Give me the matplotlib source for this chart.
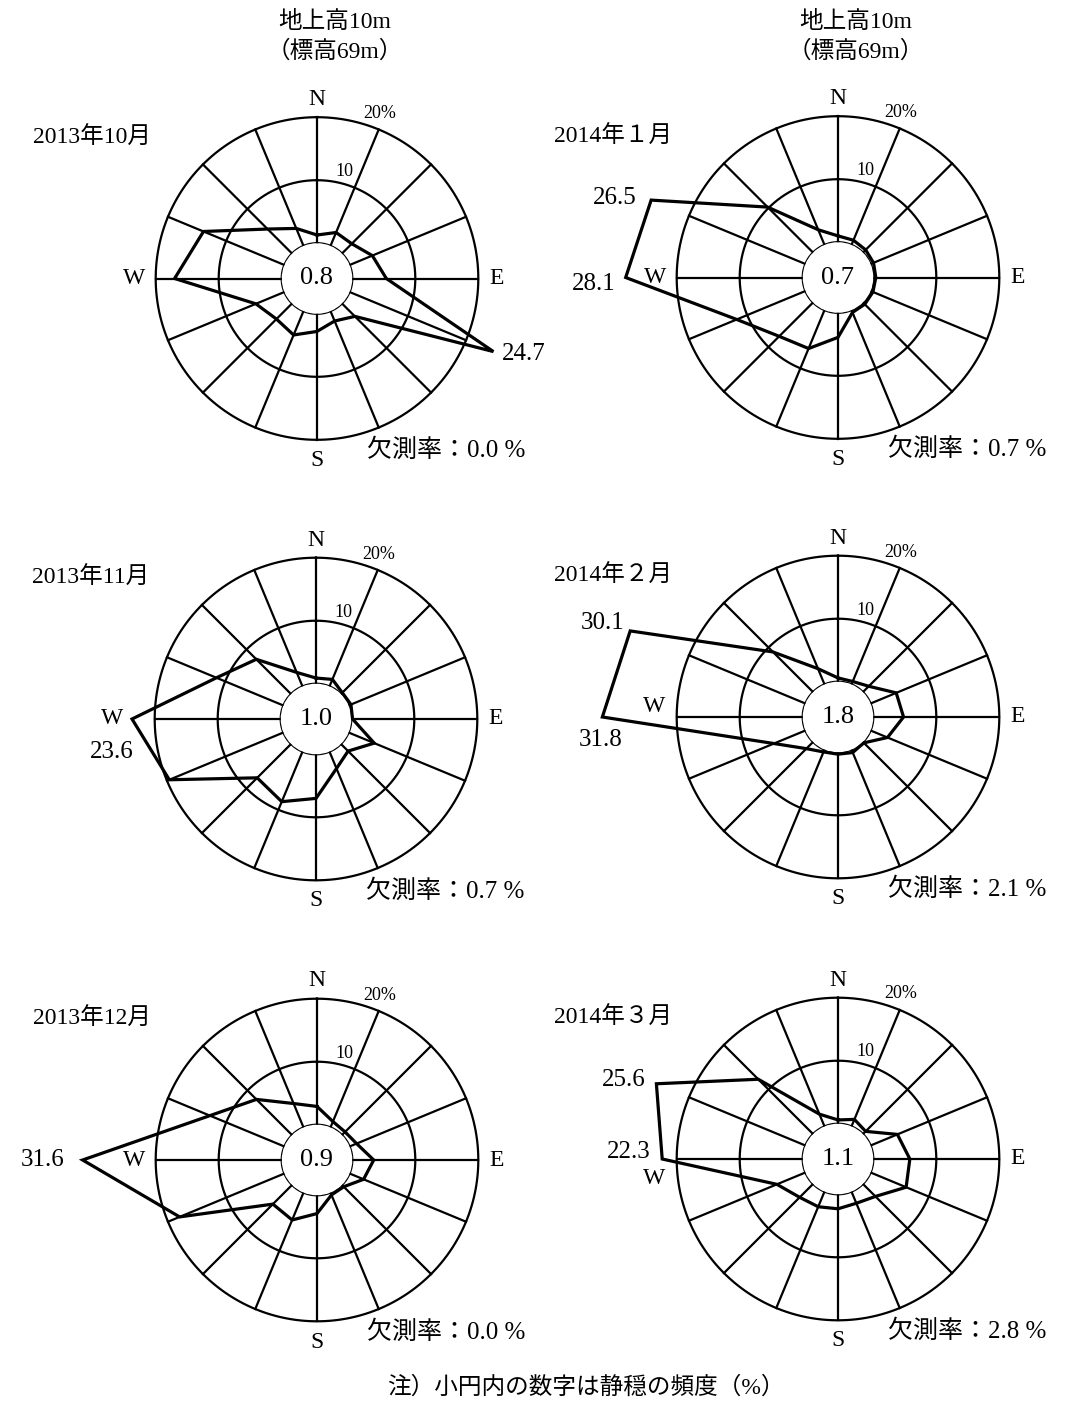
import numpy as np
import matplotlib.pyplot as plt

# ==========================
# CONFIG
# ==========================
plt.rcParams["font.family"] = ["Liberation Serif", "Noto Sans CJK JP"]

W_PX, H_PX = 1080, 1407
OUT_PATH = "out.png"

DIRS = ["N", "NNE", "NE", "ENE", "E", "ESE", "SE", "SSE",
        "S", "SSW", "SW", "WSW", "W", "WNW", "NW", "NNW"]

# 風向別出現頻度 (%)  N から時計回り
OCT_2013 = [1.3, 2.3, 2.2, 3.9, 5.4, 24.7, 2.9, 1.7, 2.8, 4.1, 3.5, 4.9, 17.0, 13.9, 5.5, 3.0]
NOV_2013 = [0.9, 1.2, 0.3, 0.4, 0.2, 4.4, 1.6, 2.9, 7.0, 8.6, 7.6, 19.6, 23.6, 11.5, 7.8, 2.4]
DEC_2013 = [2.9, 1.0, 0.7, 1.2, 3.4, 2.4, 0.4, 0.4, 2.9, 4.7, 4.3, 18.0, 31.6, 12.8, 8.0, 4.1]
JAN_2014 = [1.0, 0.8, 0.6, 0.5, 0.4, 0.4, 0.4, 0.4, 3.9, 6.6, 7.6, 11.8, 28.1, 26.5, 10.2, 2.6]
FEB_2014 = [0.6, 0.5, 1.3, 4.4, 4.8, 2.9, 0.2, 0.5, 0.3, 0.4, 1.5, 5.4, 31.8, 30.1, 9.0, 2.7]
MAR_2014 = [0.6, 1.2, 0.6, 4.6, 5.8, 6.1, 2.8, 2.0, 2.3, 2.6, 3.0, 4.9, 22.3, 25.6, 12.3, 2.1]

MONTHS = ["2013年10月", "2013年11月", "2013年12月", "2014年１月", "2014年２月", "2014年３月"]
FREQS = [OCT_2013, NOV_2013, DEC_2013, JAN_2014, FEB_2014, MAR_2014]
CALM = [0.8, 1.0, 0.9, 0.7, 1.8, 1.1]        # 静穏 (%)
MISSING = [0.0, 0.7, 0.0, 0.7, 2.1, 2.8]     # 欠測率 (%)

# 数値ラベルを付ける風向 (index) と表示位置のずれ (px, 下向き正)
LABELS = [
    [(5, 8, 2, "left")],
    [(12, -20, 33, "center")],
    [(12, -18, 0, "right")],
    [(13, -15, -2, "right"), (12, -10, 7, "right")],
    [(13, -6, -8, "right"), (12, -2, 23, "center")],
    [(13, -11, -4, "right"), (12, -12, -7, "right")],
]
W_OFFSET = [(-183, 0), (-204, 0), (-183, 0), (-183, 0), (-184, -10), (-184, 20)]

# レイアウト (px)
CENTERS = [(317, 278.5), (316, 719), (317, 1160), (838, 277.5), (838, 717), (838, 1159)]
R0 = 35.3      # 小円の半径
K = 6.3        # 1% あたりの px
RMAX = 38
AX_R = R0 + RMAX * K

FS = 17
FS_NUM = 18
LW_GRID = 1.6
LW_ROSE = 2.3


def draw_rose(fig, i):
    cx, cy = CENTERS[i]
    ax = fig.add_axes([(cx - AX_R) / W_PX, (H_PX - cy - AX_R) / H_PX,
                       2 * AX_R / W_PX, 2 * AX_R / H_PX], projection="polar")
    ax.set_theta_zero_location("N")
    ax.set_theta_direction(-1)
    ax.set_rorigin(-R0 / K)
    ax.set_ylim(0, RMAX)
    ax.axis("off")
    ax.patch.set_visible(False)

    def px(dx, dy):
        return 0.5 + dx / (2 * AX_R), 0.5 - dy / (2 * AX_R)

    theta = np.deg2rad(np.arange(len(DIRS)) * 22.5)
    tf = np.linspace(0, 2 * np.pi, 400)

    # 同心円 (小円 = 0%, 10%, 20%)
    for r in [0, 10, 20]:
        ax.plot(tf, np.full_like(tf, r), color="black", lw=LW_GRID)
    for th in theta:
        ax.plot([th, th], [0, 20], color="black", lw=LW_GRID)

    vals = np.array(FREQS[i])
    ax.plot(np.append(theta, theta[0]), np.append(vals, vals[0]),
            color="black", lw=LW_ROSE, solid_joinstyle="miter", clip_on=False)

    ax.text(0.5, 0.5, f"{CALM[i]:.1f}", transform=ax.transAxes,
            ha="center", va="center", fontsize=19)

    for lab, (dx, dy) in zip(["N", "E", "S", "W"],
                             [(0, -179), (180, 0), (0, 182), W_OFFSET[i]]):
        ax.text(*px(dx, dy), lab, transform=ax.transAxes, ha="center",
                va="center", fontsize=FS, clip_on=False)

    ax.text(*px(63, -165), "20%", transform=ax.transAxes, ha="center",
            va="center", fontsize=13, clip_on=False)
    ax.text(*px(27, -107), "10", transform=ax.transAxes, ha="center",
            va="center", fontsize=13, clip_on=False)

    ax.text(*px(50, 172), f"欠測率：{MISSING[i]:.1f} %", transform=ax.transAxes,
            ha="left", va="center", fontsize=FS_NUM, clip_on=False)

    for k, dx, dy, ha in LABELS[i]:
        ax.annotate(f"{vals[k]:.1f}", xy=(theta[k], vals[k]), xytext=(dx, -dy),
                    textcoords="offset pixels", ha=ha, va="center",
                    fontsize=FS_NUM, annotation_clip=False)

    # 月ラベル
    fig.text((cx - 284) / W_PX, 1 - (cy - 141) / H_PX, MONTHS[i],
             ha="left", va="center", fontsize=FS)


def main():
    fig = plt.figure(figsize=(W_PX / 100, H_PX / 100), dpi=100)
    fig.patch.set_facecolor("white")

    for i in range(len(MONTHS)):
        draw_rose(fig, i)

    for cx in [CENTERS[0][0], CENTERS[3][0]]:
        fig.text((cx + 18) / W_PX, 1 - 22 / H_PX, "地上高10m",
                 ha="center", va="center", fontsize=FS)
        fig.text((cx + 18) / W_PX, 1 - 52 / H_PX, "（標高69m）",
                 ha="center", va="center", fontsize=FS)

    fig.text(586 / W_PX, 1 - 1388 / H_PX, "注）小円内の数字は静穏の頻度（%）",
             ha="center", va="center", fontsize=FS)

    fig.savefig(OUT_PATH, dpi=100, facecolor="white")
    plt.close(fig)


if __name__ == "__main__":
    main()
